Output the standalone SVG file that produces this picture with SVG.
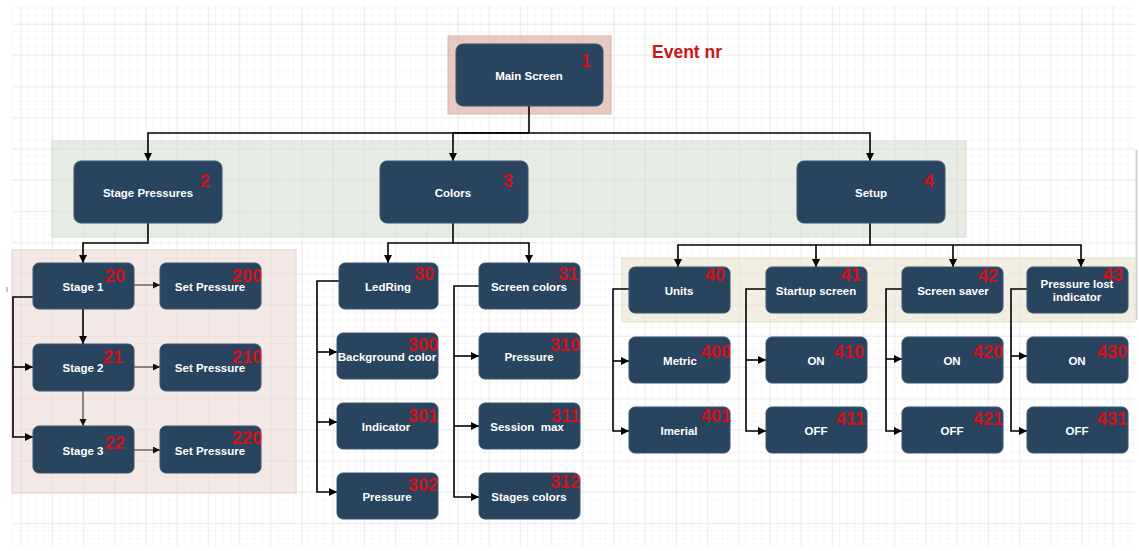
<svg xmlns="http://www.w3.org/2000/svg" width="1139" height="551" viewBox="0 0 1139 551">
<defs>
<pattern id="minor" patternUnits="userSpaceOnUse" x="21" y="24" width="7.8" height="7.8">
<path d="M7.8,0 V7.8 M0,7.8 H7.8" fill="none" stroke="#f1f1f1" stroke-width="1"/>
</pattern>
<pattern id="major" patternUnits="userSpaceOnUse" x="21" y="24" width="31.2" height="31.2">
<path d="M0,0 V31.2 M0,0 H31.2" fill="none" stroke="#e0e0e0" stroke-width="1"/>
</pattern>
<marker id="ah" markerUnits="userSpaceOnUse" markerWidth="9" markerHeight="9" refX="8" refY="4" orient="auto">
<path d="M0,0 L8,4 L0,8 Z" fill="#000"/>
</marker>
<marker id="ahs" markerUnits="userSpaceOnUse" markerWidth="8" markerHeight="8" refX="7" refY="3.5" orient="auto">
<path d="M0,0 L7,3.5 L0,7 Z" fill="#111"/>
</marker>
</defs>
<style>
.n rect{fill:#29445e;stroke:#3b5670;stroke-width:1}
.l{fill:#fff;font-family:"Liberation Sans",Arial,sans-serif;font-weight:bold;font-size:11.5px;text-anchor:middle}
.num{fill:#d4101a;font-family:"Liberation Sans",Arial,sans-serif;font-weight:bold;font-size:18px;text-anchor:end}
.c path{fill:none;stroke:#000;stroke-width:1.6;marker-end:url(#ah)}
.c path.t{stroke:#222;stroke-width:1;marker-end:url(#ahs)}
.c path.p{marker-end:none}
</style>
<rect x="0" y="0" width="1139" height="551" fill="#fff"/>
<rect x="12" y="6" width="1123" height="540" fill="url(#minor)"/>
<rect x="12" y="6" width="1123" height="540" fill="url(#major)"/>
<line x1="1136.5" y1="150" x2="1136.5" y2="320" stroke="#cfcfcf" stroke-width="2"/>
<line x1="7" y1="287" x2="7" y2="292" stroke="#888" stroke-width="1"/>

<g id="bands">
<rect x="448" y="36" width="163" height="78" fill="#d9a59c" fill-opacity="0.6" stroke="#d9b1aa"/>
<rect x="52" y="141" width="914" height="96" fill="#d3dcd0" fill-opacity="0.55" stroke="#d6ddd2"/>
<rect x="12" y="250" width="284" height="243" fill="#ecd3d0" fill-opacity="0.5" stroke="#e3cfcc"/>
<rect x="622" y="258" width="513" height="64" fill="#e9e3cf" fill-opacity="0.6" stroke="#e8e2d2"/>
</g>

<text id="event-nr" x="652" y="58" fill="#cc1616" font-family="Liberation Sans, Arial, sans-serif" font-weight="bold" font-size="17.5px">Event nr</text>

<g id="connectors" class="c">
<path class="p" d="M529,106 V133"/>
<path d="M529,133 H148 V161"/>
<path d="M529,133 H453 V161"/>
<path d="M529,133 H870 V161"/>
<path d="M148,223 V243 H83 V263"/>
<path d="M83,309 V344"/>
<path class="t" d="M83,391 V426"/>
<path class="t" d="M134,285 H160"/>
<path class="t" d="M134,367 H160"/>
<path class="t" d="M134,450 H160"/>
<path d="M33,297 H13 V437 H33"/>
<path d="M13,367 H33"/>
<path d="M453,223 V243 H388 V263"/>
<path d="M453,243 H529 V263"/>
<path d="M339,281 H317 V492 H337"/>
<path d="M317,352 H337"/>
<path d="M317,422 H337"/>
<path d="M479,286 H454 V497 H479"/>
<path d="M454,356 H479"/>
<path d="M454,426 H479"/>
<path d="M870,223 V245 H678 V267"/>
<path d="M870,245 H1081 V267"/>
<path d="M816,245 V267"/>
<path d="M953,245 V267"/>
<path d="M629,289 H613 V431 H629"/>
<path d="M613,361 H629"/>
<path d="M766,289 H746 V431 H766"/>
<path d="M746,360 H766"/>
<path d="M902,289 H886 V431 H902"/>
<path d="M886,359 H902"/>
<path d="M1027,289 H1011 V431 H1027"/>
<path d="M1011,356 H1027"/>
</g>

<g id="n1" class="n"><rect x="456" y="44" width="147" height="62" rx="7"/><text class="l" x="529" y="80">Main Screen</text><text class="num" x="591" y="67">1</text></g>
<g id="n2" class="n"><rect x="74" y="161" width="148" height="62" rx="7"/><text class="l" x="148" y="197">Stage Pressures</text><text class="num" x="210" y="187">2</text></g>
<g id="n3" class="n"><rect x="380" y="161" width="148" height="62" rx="7"/><text class="l" x="453" y="197">Colors</text><text class="num" x="513" y="187">3</text></g>
<g id="n4" class="n"><rect x="797" y="161" width="148" height="62" rx="7"/><text class="l" x="871" y="197">Setup</text><text class="num" x="934" y="187">4</text></g>

<g id="n20" class="n"><rect x="33" y="263" width="101" height="46" rx="6"/><text class="l" x="83" y="291">Stage 1</text><text class="num" x="125" y="282">20</text></g>
<g id="n200" class="n"><rect x="160" y="263" width="101" height="46" rx="6"/><text class="l" x="210" y="291">Set Pressure</text><text class="num" x="262" y="282">200</text></g>
<g id="n21" class="n"><rect x="33" y="344" width="101" height="47" rx="6"/><text class="l" x="83" y="372">Stage 2</text><text class="num" x="123" y="363">21</text></g>
<g id="n210" class="n"><rect x="160" y="344" width="101" height="47" rx="6"/><text class="l" x="210" y="372">Set Pressure</text><text class="num" x="262" y="363">210</text></g>
<g id="n22" class="n"><rect x="33" y="426" width="101" height="47" rx="6"/><text class="l" x="83" y="455">Stage 3</text><text class="num" x="125" y="449">22</text></g>
<g id="n220" class="n"><rect x="160" y="426" width="101" height="47" rx="6"/><text class="l" x="210" y="455">Set Pressure</text><text class="num" x="262" y="444">220</text></g>

<g id="n30" class="n"><rect x="339" y="263" width="99" height="46" rx="6"/><text class="l" x="388" y="291">LedRing</text><text class="num" x="434" y="280">30</text></g>
<g id="n31" class="n"><rect x="479" y="263" width="101" height="46" rx="6"/><text class="l" x="529" y="291">Screen colors</text><text class="num" x="578" y="280">31</text></g>
<g id="n300" class="n"><rect x="337" y="333" width="101" height="46" rx="6"/><text class="l" x="387" y="361">Background color</text><text class="num" x="438" y="351">300</text></g>
<g id="n310" class="n"><rect x="479" y="333" width="101" height="46" rx="6"/><text class="l" x="529" y="361">Pressure</text><text class="num" x="580" y="351">310</text></g>
<g id="n301" class="n"><rect x="337" y="403" width="101" height="46" rx="6"/><text class="l" x="386" y="431">Indicator</text><text class="num" x="438" y="422">301</text></g>
<g id="n311" class="n"><rect x="479" y="403" width="101" height="46" rx="6"/><text class="l" x="527" y="431" xml:space="preserve">Session  max</text><text class="num" x="580" y="422">311</text></g>
<g id="n302" class="n"><rect x="337" y="473" width="101" height="46" rx="6"/><text class="l" x="387" y="501">Pressure</text><text class="num" x="438" y="491">302</text></g>
<g id="n312" class="n"><rect x="479" y="473" width="101" height="46" rx="6"/><text class="l" x="529" y="501">Stages colors</text><text class="num" x="580" y="488">312</text></g>

<g id="n40" class="n"><rect x="629" y="267" width="101" height="46" rx="6"/><text class="l" x="679" y="295">Units</text><text class="num" x="725" y="281">40</text></g>
<g id="n41" class="n"><rect x="766" y="267" width="101" height="46" rx="6"/><text class="l" x="816" y="295">Startup screen</text><text class="num" x="861" y="281">41</text></g>
<g id="n42" class="n"><rect x="902" y="267" width="101" height="46" rx="6"/><text class="l" x="953" y="295">Screen saver</text><text class="num" x="998" y="282">42</text></g>
<g id="n43" class="n"><rect x="1027" y="267" width="101" height="46" rx="6"/><text class="l" x="1077" y="288">Pressure lost</text><text class="l" x="1077" y="301">indicator</text><text class="num" x="1123" y="281">43</text></g>
<g id="n400" class="n"><rect x="629" y="337" width="101" height="46" rx="6"/><text class="l" x="680" y="365">Metric</text><text class="num" x="731" y="358">400</text></g>
<g id="n410" class="n"><rect x="766" y="337" width="101" height="46" rx="6"/><text class="l" x="816" y="365">ON</text><text class="num" x="864" y="358">410</text></g>
<g id="n420" class="n"><rect x="902" y="337" width="101" height="46" rx="6"/><text class="l" x="952" y="365">ON</text><text class="num" x="1003" y="358">420</text></g>
<g id="n430" class="n"><rect x="1027" y="337" width="101" height="46" rx="6"/><text class="l" x="1077" y="365">ON</text><text class="num" x="1127" y="358">430</text></g>
<g id="n401" class="n"><rect x="629" y="407" width="101" height="46" rx="6"/><text class="l" x="679" y="435">Imerial</text><text class="num" x="731" y="422">401</text></g>
<g id="n411" class="n"><rect x="766" y="407" width="101" height="46" rx="6"/><text class="l" x="816" y="435">OFF</text><text class="num" x="865" y="425">411</text></g>
<g id="n421" class="n"><rect x="902" y="407" width="101" height="46" rx="6"/><text class="l" x="952" y="435">OFF</text><text class="num" x="1003" y="425">421</text></g>
<g id="n431" class="n"><rect x="1027" y="407" width="101" height="46" rx="6"/><text class="l" x="1077" y="435">OFF</text><text class="num" x="1127" y="425">431</text></g>
</svg>
